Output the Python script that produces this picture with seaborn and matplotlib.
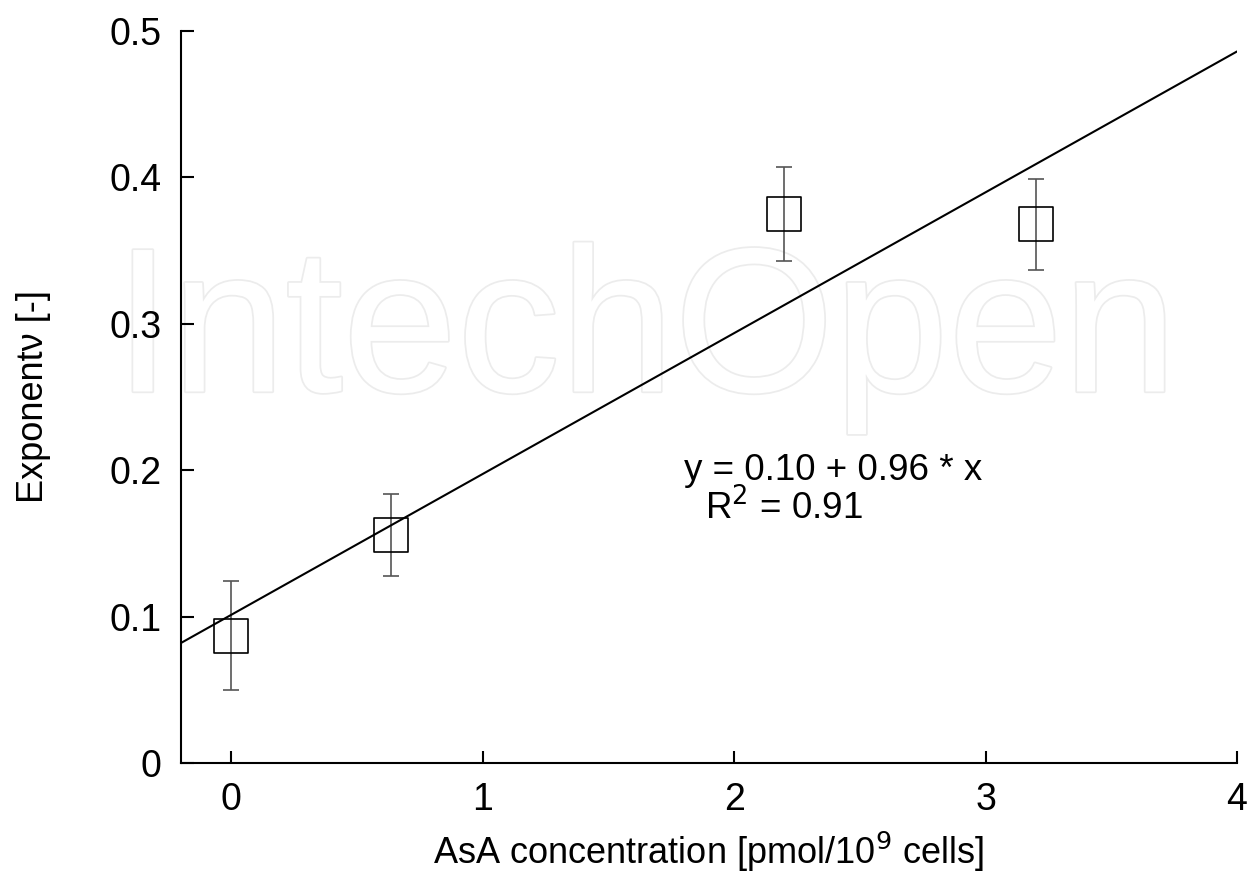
import matplotlib
matplotlib.use("Agg")
import matplotlib.pyplot as plt
import matplotlib.patheffects as pe
import seaborn as sns
import pandas as pd

asa_conc = [0.0, 0.637, 2.20, 3.20]
exponent = [0.087, 0.156, 0.375, 0.368]
exp_err = [0.037, 0.028, 0.032, 0.031]

# linear fit, endpoints
fit_x = [-0.2, 4.0]
fit_y = [0.082, 0.486]

x_ticks = [0, 1, 2, 3, 4]
y_ticks = [0, 0.1, 0.2, 0.3, 0.4, 0.5]
y_ticklabels = ["0", "0.1", "0.2", "0.3", "0.4", "0.5"]

sns.set_theme(style="ticks")
plt.rcParams['font.family'] = ['Liberation Sans', 'DejaVu Sans']
plt.rcParams['text.color'] = 'black'
plt.rcParams['axes.labelcolor'] = 'black'

df = pd.DataFrame({"conc": asa_conc, "nu": exponent, "err": exp_err})
fit = pd.DataFrame({"x": fit_x, "y": fit_y})

fig = plt.figure(figsize=(12.52, 8.75), dpi=100)
ax = fig.add_axes([0.1446, 0.128, 0.8434, 0.8366])

# watermark
ax.text(0.44, 0.58, "IntechOpen", transform=ax.transAxes, ha="center", va="center",
        fontsize=148, color="white", zorder=0,
        path_effects=[pe.withStroke(linewidth=2.5, foreground="#ececec")])

ax.errorbar(df["conc"], df["nu"], yerr=df["err"], fmt="none", ecolor="#555555",
            elinewidth=1.2, capsize=6, capthick=1.2, zorder=2)
sns.scatterplot(data=df, x="conc", y="nu", marker="s", s=600, facecolor="none",
                edgecolor="black", linewidth=1.2, ax=ax, zorder=3)
sns.lineplot(data=fit, x="x", y="y", color="black", linewidth=1.5, ax=ax, zorder=4)

ax.text(1.80, 0.200, "y = 0.10 + 0.96 * x", fontsize=26.5, va="center", color="black")
ax.text(1.885, 0.174, "R$^2$ = 0.91", fontsize=26.5, va="center", color="black")

ax.set_xlim(-0.2, 4.0)
ax.set_ylim(0, 0.5)
ax.set_xticks(x_ticks)
ax.set_yticks(y_ticks)
ax.set_yticklabels(y_ticklabels)
ax.tick_params(direction="in", length=9, width=1.5, labelsize=27, pad=14,
               colors="black", labelcolor="black")
ax.set_xlabel("AsA concentration [pmol/10$^9$ cells]", fontsize=26, labelpad=8)
ax.set_ylabel("Exponentν [-]", fontsize=26, labelpad=42)
for side in ["top", "right"]:
    ax.spines[side].set_visible(False)
for side in ["left", "bottom"]:
    ax.spines[side].set_linewidth(1.5)
    ax.spines[side].set_color("black")

fig.savefig("out.png", dpi=100)
